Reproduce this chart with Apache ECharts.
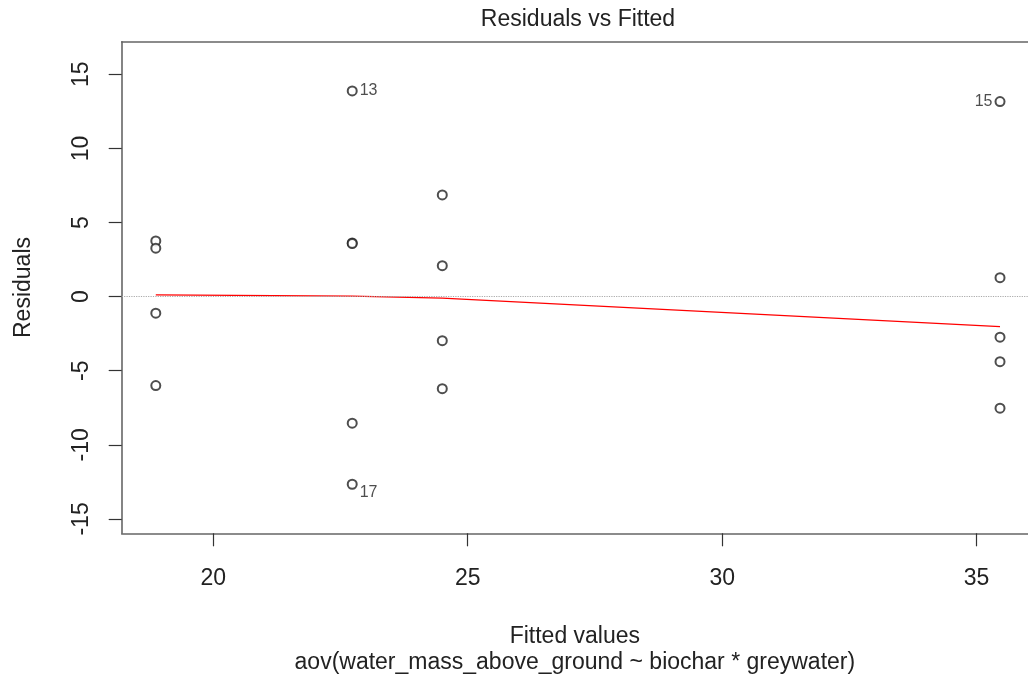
<!DOCTYPE html>
<html lang="en">
<head>
	<meta charset="UTF-8">
	<title>Residuals vs Fitted</title>
	<style>
		html, body { margin: 0; padding: 0; background: #fff; }
		#main { width: 1028px; height: 687px; }
	</style>
</head>
<body>
	<div id="main"></div>
</body>
<script type="text/javascript" src="https://cdn.jsdelivr.net/npm/echarts/dist/echarts.min.js"></script>
<script type="text/javascript">
        // 每个观测值的拟合值
        var fittedValues = [
            18.87, 18.87, 18.87, 18.87,
            22.73, 22.73, 22.73, 22.73, 22.73,
            24.50, 24.50, 24.50, 24.50,
            35.46, 35.46, 35.46, 35.46, 35.46
        ];
        // 残差
        var residuals = [
            3.76, 3.27, -1.12, -6.00,
            13.88, 3.62, 3.58, -8.54, -12.66,
            6.86, 2.09, -2.97, -6.21,
            13.16, 1.28, -2.74, -4.39, -7.53
        ];
        // 标注的观测编号（空字符串表示不标注）
        var pointIds = [
            '', '', '', '',
            '13', '', '', '', '17',
            '', '', '', '',
            '15', '', '', '', ''
        ];
        // lowess 平滑线
        var smoothX = [18.87, 22.73, 24.50, 35.46];
        var smoothY = [0.12, 0.03, -0.10, -2.02];
        // 刻度
        var xTicks = [20, 25, 30, 35];
        var yTicks = [-15, -10, -5, 0, 5, 10, 15];

        var fontName = 'Liberation Sans, Arial, sans-serif';
        var textColor = '#222';
        var boxLine = { color: '#666', width: 1.6 };

        var myChart = echarts.init(document.getElementById('main'));

        // 组装散点数据
        var pointData = [];
        for (var i = 0; i < fittedValues.length; i++) {
            var item = { value: [fittedValues[i], residuals[i]] };
            if (pointIds[i] !== '') {
                var onLeft = fittedValues[i] > 27;
                item.label = {
                    show: true,
                    formatter: pointIds[i],
                    position: onLeft ? 'left' : 'right',
                    distance: 2,
                    offset: [0, residuals[i] < 0 ? 8 : 0]
                };
            }
            pointData.push(item);
        }

        var smoothData = [];
        for (var j = 0; j < smoothX.length; j++) {
            smoothData.push([smoothX[j], smoothY[j]]);
        }

        var option = {
            animation: false,
            backgroundColor: '#fff',
            title: {
                text: 'Residuals vs Fitted',
                left: 578,
                textAlign: 'center',
                top: 8,
                padding: 0,
                textStyle: {
                    fontFamily: fontName,
                    fontSize: 23,
                    fontWeight: 'normal',
                    color: textColor
                }
            },
            // 原图绘图框右边缘在画布外，所以只画上、下、左三条边
            grid: {
                left: 121.7,
                right: 0,
                top: 41.7,
                bottom: 153.7,
                show: false
            },
            xAxis: [{
                type: 'value',
                min: 18.2,
                max: 36.01,
                name: 'Fitted values\naov(water_mass_above_ground ~ biochar * greywater)',
                nameLocation: 'middle',
                nameGap: 90,
                nameTextStyle: {
                    fontFamily: fontName,
                    fontSize: 23,
                    lineHeight: 26,
                    color: textColor
                },
                axisLine: { show: true, onZero: false, lineStyle: boxLine },
                splitLine: { show: false },
                axisTick: {
                    show: true,
                    length: 13,
                    customValues: xTicks,
                    lineStyle: { color: '#333', width: 1.2 }
                },
                axisLabel: {
                    customValues: xTicks,
                    margin: 34,
                    fontFamily: fontName,
                    fontSize: 23,
                    color: textColor
                }
            }, {
                // 上边框
                type: 'value',
                position: 'top',
                min: 18.2,
                max: 36.01,
                axisLine: { show: true, onZero: false, lineStyle: boxLine },
                axisTick: { show: false },
                axisLabel: { show: false },
                splitLine: { show: false }
            }],
            yAxis: {
                type: 'value',
                min: -15.97,
                max: 17.2,
                name: 'Residuals',
                nameLocation: 'middle',
                nameGap: 87,
                nameTextStyle: {
                    fontFamily: fontName,
                    fontSize: 23,
                    color: textColor
                },
                axisLine: { show: true, onZero: false, lineStyle: boxLine },
                splitLine: { show: false },
                axisTick: {
                    show: true,
                    length: 13,
                    customValues: yTicks,
                    lineStyle: { color: '#333', width: 1.2 }
                },
                axisLabel: {
                    customValues: yTicks,
                    rotate: 90,
                    margin: 29,
                    fontFamily: fontName,
                    fontSize: 23,
                    color: textColor
                }
            },
            series: [{
                name: 'residuals',
                type: 'scatter',
                symbol: 'emptyCircle',
                symbolSize: 9,
                itemStyle: { color: '#222', borderWidth: 1.3 },
                label: {
                    fontFamily: fontName,
                    fontSize: 16,
                    color: textColor
                },
                data: pointData,
                z: 3
            }, {
                name: 'smooth',
                type: 'line',
                symbol: 'none',
                lineStyle: { color: '#ff0000', width: 1.3 },
                data: smoothData,
                z: 2
            }, {
                name: 'zero',
                type: 'line',
                data: [],
                markLine: {
                    silent: true,
                    symbol: 'none',
                    label: { show: false },
                    lineStyle: { color: '#aaa', type: 'dotted', width: 1.2 },
                    data: [{ yAxis: 0 }]
                },
                z: 4
            }]
        };

        myChart.setOption(option);
</script>
</html>
